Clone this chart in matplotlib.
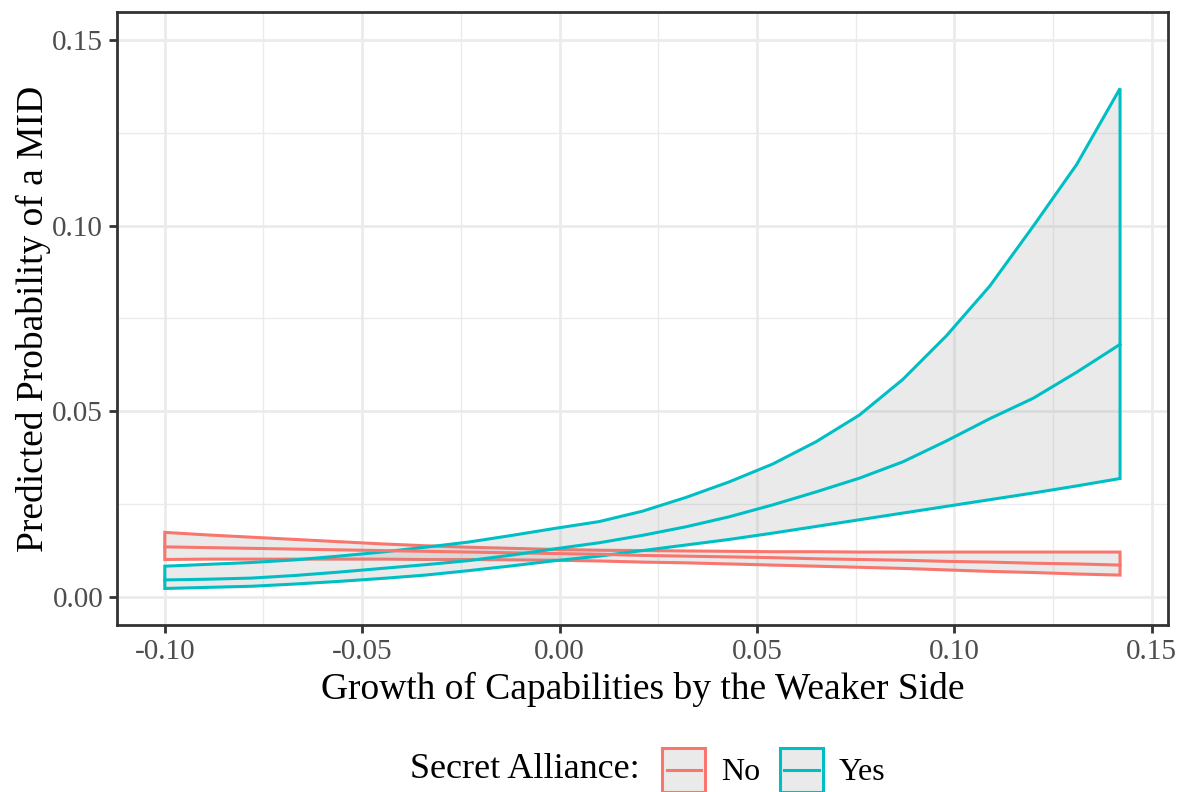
import matplotlib
matplotlib.use("Agg")
import matplotlib.pyplot as plt
from matplotlib.lines import Line2D
from matplotlib.patches import Patch, Rectangle
from matplotlib.legend_handler import HandlerBase
from matplotlib.ticker import MultipleLocator

plt.rcParams["font.family"] = ["Liberation Serif", "DejaVu Serif"]

growth = [-0.100, -0.089, -0.078, -0.067, -0.056, -0.045, -0.034, -0.023,
          -0.012, -0.001, 0.010, 0.021, 0.032, 0.043, 0.054, 0.065,
          0.076, 0.087, 0.098, 0.109, 0.120, 0.131, 0.142]

no_upper = [0.0174, 0.0167, 0.0161, 0.0155, 0.0149, 0.0143, 0.0138, 0.0134,
            0.0131, 0.0128, 0.0126, 0.0125, 0.0124, 0.0123, 0.0122, 0.0122,
            0.0121, 0.0121, 0.0121, 0.0121, 0.0121, 0.0121, 0.0121]
no_mid = [0.0135, 0.0133, 0.0131, 0.0129, 0.0127, 0.0125, 0.0123, 0.0121,
          0.0119, 0.0117, 0.0115, 0.0112, 0.0110, 0.0108, 0.0106, 0.0103,
          0.0101, 0.0099, 0.0096, 0.0094, 0.0091, 0.0089, 0.0086]
no_lower = [0.0101, 0.0102, 0.0102, 0.0102, 0.0102, 0.0102, 0.0101, 0.0101,
            0.0100, 0.0099, 0.0097, 0.0094, 0.0092, 0.0089, 0.0086, 0.0083,
            0.0080, 0.0077, 0.0073, 0.0069, 0.0066, 0.0062, 0.0059]

yes_upper = [0.0083, 0.0088, 0.0093, 0.0100, 0.0110, 0.0121, 0.0134, 0.0148,
             0.0166, 0.0185, 0.0203, 0.0231, 0.0268, 0.0310, 0.0358, 0.0418,
             0.0490, 0.0586, 0.0703, 0.0837, 0.0998, 0.1164, 0.1369]
yes_mid = [0.0046, 0.0048, 0.0051, 0.0058, 0.0067, 0.0077, 0.0087, 0.0098,
           0.0113, 0.0130, 0.0146, 0.0166, 0.0189, 0.0216, 0.0248, 0.0283,
           0.0320, 0.0364, 0.0420, 0.0480, 0.0535, 0.0605, 0.0680]
yes_lower = [0.0023, 0.0026, 0.0029, 0.0035, 0.0042, 0.0050, 0.0059, 0.0071,
             0.0084, 0.0098, 0.0110, 0.0125, 0.0140, 0.0155, 0.0172, 0.0190,
             0.0208, 0.0226, 0.0244, 0.0262, 0.0280, 0.0299, 0.0319]

groups = ["No", "Yes"]
colors = {"No": "#F8766D", "Yes": "#00BFC4"}
series = {
    "No": (no_lower, no_mid, no_upper),
    "Yes": (yes_lower, yes_mid, yes_upper),
}
fill_rgba = (0.6, 0.6, 0.6, 0.2)
lw = 2.2


class RibbonKey(HandlerBase):
    # grey box with coloured border and a line through the middle, like ggplot's ribbon key
    def create_artists(self, legend, orig_handle, xdescent, ydescent,
                       width, height, fontsize, trans):
        color = orig_handle.get_edgecolor()
        box = Rectangle((-xdescent, -ydescent), width, height,
                        facecolor=fill_rgba, edgecolor=color, linewidth=lw,
                        transform=trans)
        mid = -ydescent + height / 2
        line = Line2D([-xdescent + 3, -xdescent + width - 3], [mid, mid],
                      color=color, linewidth=lw, transform=trans)
        return [box, line]


fig, ax = plt.subplots(figsize=(11.88, 7.92), dpi=100)
fig.subplots_adjust(left=0.0985, right=0.983, top=0.985, bottom=0.211)

for name in groups:
    lower, mid, upper = series[name]
    xs = growth + growth[::-1]
    ys = upper + lower[::-1]
    ax.fill(xs, ys, facecolor=fill_rgba, edgecolor=colors[name],
            linewidth=lw, joinstyle="miter", zorder=3)
    ax.plot(growth, mid, color=colors[name], linewidth=lw, zorder=4)

ax.set_xlim(-0.1121, 0.1541)
ax.set_ylim(-0.0075, 0.1575)
ax.xaxis.set_minor_locator(MultipleLocator(0.025))
ax.yaxis.set_minor_locator(MultipleLocator(0.025))
ax.set_xticks([-0.10, -0.05, 0.0, 0.05, 0.10, 0.15])
ax.set_xticklabels(["-0.10", "-0.05", "0.00", "0.05", "0.10", "0.15"])
ax.set_yticks([0.0, 0.05, 0.10, 0.15])
ax.set_yticklabels(["0.00", "0.05", "0.10", "0.15"])

ax.grid(which="major", color="#EBEBEB", linewidth=2.0, zorder=0)
ax.grid(which="minor", color="#EBEBEB", linewidth=1.0, zorder=0)
ax.set_axisbelow(True)
for sp in ax.spines.values():
    sp.set_color("#333333")
    sp.set_linewidth(2.0)
ax.tick_params(which="major", length=6, width=2, color="#333333",
               labelcolor="#4D4D4D", labelsize=21, pad=4)
ax.tick_params(which="minor", length=0)

ax.set_xlabel("Growth of Capabilities by the Weaker Side", fontsize=27, labelpad=5)
ax.set_ylabel("Predicted Probability of a MID", fontsize=27, labelpad=1)

handles = [Patch(edgecolor=colors[name]) for name in groups]
fig.text(410 / 1188, 1 - 770 / 792, "Secret Alliance:", fontsize=26,
         ha="left", va="center")
fig.legend(handles, groups, loc="center left", handler_map={Patch: RibbonKey()},
           bbox_to_anchor=(640 / 1188, 1 - 770 / 792), ncol=2, frameon=False,
           fontsize=23, handlelength=1.35, handleheight=1.75, handletextpad=0.5,
           columnspacing=0.6, borderpad=0.2)

fig.savefig("out.png", dpi=100)
